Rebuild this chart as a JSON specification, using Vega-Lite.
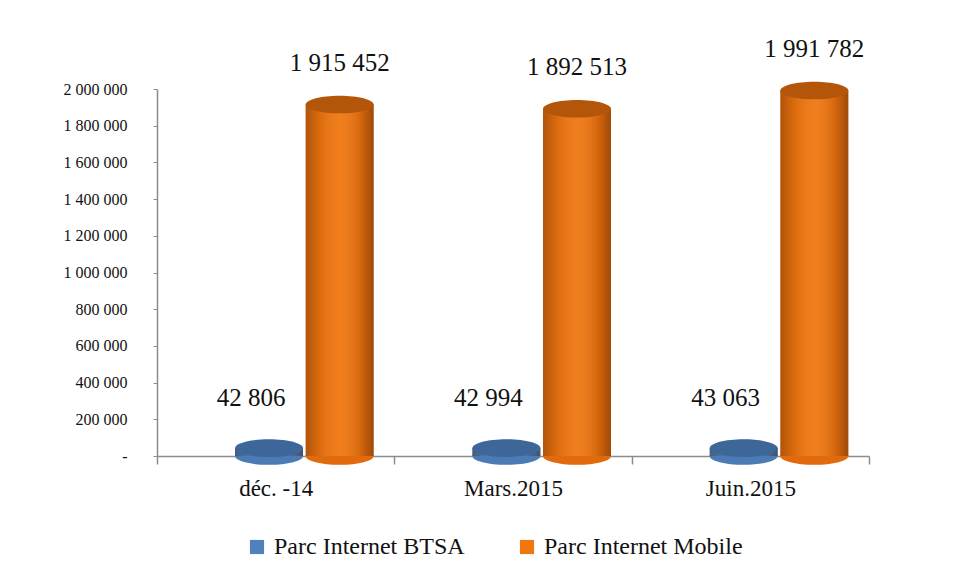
{
  "$schema": "https://vega.github.io/schema/vega-lite/v6.json",
  "autosize": {"type": "none"},
  "width": 712,
  "height": 367,
  "padding": {"left": 157, "top": 89, "right": 90, "bottom": 125},
  "background": "white",
  "config": {
    "view": {"stroke": null},
    "font": "'Liberation Serif', 'DejaVu Serif', serif",
    "locale": {"number": {"decimal": ",", "thousands": " ", "grouping": [3], "currency": ["", " €"]}}
  },
  "data": {
    "values": [
      {"periode": "déc. -14", "serie": "Parc Internet BTSA", "valeur": 42806},
      {"periode": "déc. -14", "serie": "Parc Internet Mobile", "valeur": 1915452},
      {"periode": "Mars.2015", "serie": "Parc Internet BTSA", "valeur": 42994},
      {"periode": "Mars.2015", "serie": "Parc Internet Mobile", "valeur": 1892513},
      {"periode": "Juin.2015", "serie": "Parc Internet BTSA", "valeur": 43063},
      {"periode": "Juin.2015", "serie": "Parc Internet Mobile", "valeur": 1991782}
    ]
  },
  "encoding": {
    "x": {
      "field": "periode", "type": "nominal", "sort": null,
      "scale": {"paddingInner": 0, "paddingOuter": 0},
      "axis": {
        "title": null, "labelAngle": 0, "labelFont": "'Liberation Serif', 'DejaVu Serif', serif", "labelFontSize": 23, "labelColor": "#111",
        "labelPadding": 13, "tickBand": "extent", "tickSize": 8,
        "domainColor": "#8c8c8c", "tickColor": "#8c8c8c", "grid": false, "domainWidth": 1.5, "tickWidth": 1.5
      }
    },
    "xOffset": {
      "field": "serie", "type": "nominal",
      "scale": {"domain": ["Parc Internet BTSA", "Parc Internet Mobile"], "paddingInner": 0.04, "paddingOuter": 0.7, "align": 0.79}
    },
    "y": {
      "field": "valeur", "type": "quantitative",
      "scale": {"domain": [0, 2000000], "nice": false},
      "axis": {
        "title": null, "values": [0, 200000, 400000, 600000, 800000, 1000000, 1200000, 1400000, 1600000, 1800000, 2000000],
        "labelExpr": "datum.value == 0 ? '-' : replace(format(datum.value, ',d'), regexp(',', 'g'), ' ')",
        "labelFont": "'Liberation Serif', 'DejaVu Serif', serif", "labelFontSize": 16, "labelColor": "#111", "labelPadding": 26, "tickSize": 4,
        "domainColor": "#8c8c8c", "tickColor": "#8c8c8c", "grid": false, "domainWidth": 1.5
      }
    }
  },
  "layer": [
    {
      "mark": {"type": "point", "filled": true, "opacity": 1, "size": 4624, "shape": "M-1,0 A1,0.26 0 1,0 1,0 A1,0.26 0 1,0 -1,0 Z", "strokeWidth": 0},
      "encoding": {
        "y": {"datum": 0},
        "color": {"condition": {"test": "datum.serie == 'Parc Internet BTSA'", "value": "#4a7bb5"}, "value": "#e06a0c"}
      }
    },
    {
      "mark": {"type": "bar", "width": 68},
      "encoding": {
        "color": {
          "field": "serie", "type": "nominal",
          "scale": {"domain": ["Parc Internet BTSA", "Parc Internet Mobile"], "range": ["#4f81bd", "#f0760f"]},
          "legend": {
            "title": null, "orient": "none", "direction": "horizontal", "legendX": 88, "legendY": 446,
            "symbolType": "square", "symbolSize": 200, "symbolStrokeWidth": 0,
            "labelFont": "'Liberation Serif', 'DejaVu Serif', serif", "labelFontSize": 24,
            "labelColor": "#111", "labelOffset": 5, "columnPadding": 50, "labelLimit": 400
          }
        }
      }
    },
    {
      "mark": {
        "type": "bar", "width": 68,
        "fill": {"gradient": "linear", "x1": 0, "x2": 1, "y1": 0, "y2": 0,
          "stops": [
            {"offset": 0, "color": "rgba(60,20,0,0.35)"},
            {"offset": 0.2, "color": "rgba(60,20,0,0.12)"},
            {"offset": 0.5, "color": "rgba(255,255,255,0.06)"},
            {"offset": 0.8, "color": "rgba(60,20,0,0.15)"},
            {"offset": 1, "color": "rgba(60,20,0,0.45)"}
          ]}
      },
      "encoding": {}
    },
    {
      "mark": {"type": "point", "filled": true, "opacity": 1, "size": 4624, "shape": "M-1,0 A1,0.26 0 1,0 1,0 A1,0.26 0 1,0 -1,0 Z", "strokeWidth": 0},
      "encoding": {
        "color": {"condition": {"test": "datum.serie == 'Parc Internet BTSA'", "value": "#3d6699"}, "value": "#b3560a"}
      }
    },
    {
      "transform": [{"filter": "datum.serie == 'Parc Internet Mobile'"}],
      "mark": {"type": "text", "font": "'Liberation Serif', 'DejaVu Serif', serif", "fontSize": 25, "color": "#111", "dy": -42, "baseline": "middle"},
      "encoding": {"text": {"field": "valeur", "type": "quantitative", "format": ",d"}}
    },
    {
      "transform": [{"filter": "datum.serie == 'Parc Internet BTSA'"}],
      "mark": {"type": "text", "font": "'Liberation Serif', 'DejaVu Serif', serif", "fontSize": 25, "color": "#111", "dy": -50, "dx": -18, "baseline": "middle"},
      "encoding": {"text": {"field": "valeur", "type": "quantitative", "format": ",d"}}
    }
  ]
}
